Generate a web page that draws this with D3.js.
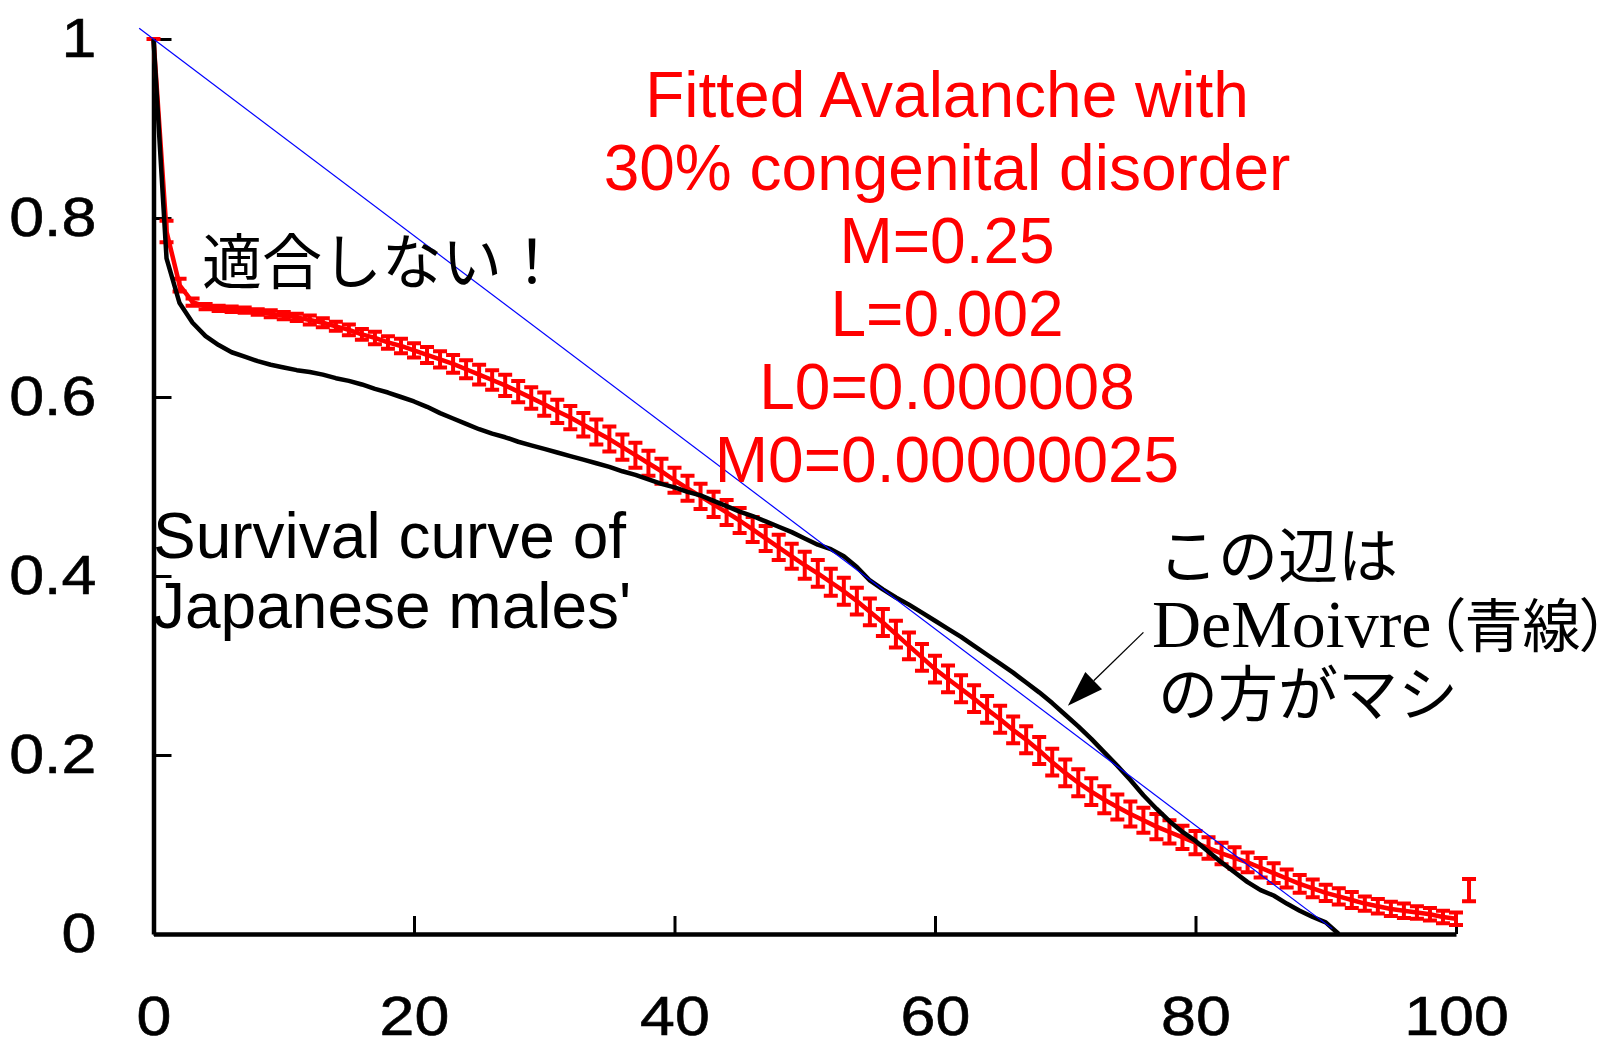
<!DOCTYPE html>
<html>
<head>
<meta charset="UTF-8">
<title>Avalanche fit vs survival curve</title>
<script type="text/javascript" src="https://d3js.org/d3.v7.min.js"></script>
<style>
body {margin:0; background:#fff;}
.palt {font-feature-settings: "palt" 1;}
</style>
</head>
<body>
<div id="chart"></div>
<script type="text/javascript">
// ages on the x axis (one error bar per year)
var ages = d3.range(0, 101);

// fitted avalanche model (red)
var fitted = [
  1.000, 0.785, 0.725, 0.706, 0.701, 0.699, 0.698, 0.697, 0.695, 0.693,
  0.691, 0.689, 0.686, 0.683, 0.679, 0.675, 0.670, 0.666, 0.661, 0.657,
  0.652, 0.647, 0.642, 0.637, 0.631, 0.625, 0.619, 0.613, 0.606, 0.599,
  0.592, 0.584, 0.577, 0.569, 0.561, 0.553, 0.544, 0.535, 0.526, 0.517,
  0.507, 0.498, 0.489, 0.480, 0.471, 0.462, 0.452, 0.442, 0.432, 0.422,
  0.412, 0.403, 0.393, 0.383, 0.372, 0.360, 0.348, 0.335, 0.322, 0.309,
  0.296, 0.285, 0.274, 0.263, 0.251, 0.240, 0.228, 0.217, 0.205, 0.192,
  0.180, 0.169, 0.159, 0.150, 0.142, 0.134, 0.127, 0.120, 0.114, 0.108,
  0.102, 0.096, 0.090, 0.085, 0.080, 0.074, 0.068, 0.062, 0.056, 0.051,
  0.046, 0.042, 0.038, 0.034, 0.031, 0.028, 0.026, 0.024, 0.022, 0.019,
  0.017
];
// half height of each error bar
var fittedErr = [
  0.000, 0.012, 0.007, 0.004, 0.003, 0.003, 0.003, 0.003, 0.003, 0.004,
  0.004, 0.004, 0.005, 0.005, 0.005, 0.006, 0.006, 0.007, 0.007, 0.008,
  0.008, 0.009, 0.009, 0.010, 0.010, 0.011, 0.011, 0.012, 0.012, 0.012,
  0.013, 0.013, 0.013, 0.013, 0.014, 0.014, 0.014, 0.014, 0.014, 0.014,
  0.014, 0.014, 0.014, 0.014, 0.014, 0.014, 0.014, 0.014, 0.014, 0.014,
  0.015, 0.015, 0.015, 0.015, 0.015, 0.015, 0.015, 0.015, 0.015, 0.015,
  0.015, 0.015, 0.015, 0.015, 0.015, 0.015, 0.015, 0.015, 0.015, 0.015,
  0.015, 0.015, 0.015, 0.015, 0.014, 0.014, 0.014, 0.014, 0.013, 0.013,
  0.013, 0.012, 0.012, 0.012, 0.011, 0.011, 0.011, 0.010, 0.010, 0.010,
  0.009, 0.009, 0.009, 0.008, 0.008, 0.008, 0.008, 0.007, 0.007, 0.007,
  0.007
];
// lone bar right of 100
var strayAge = [101];
var strayVal = [0.049];
var strayErr = [0.0125];

// survival curve of Japanese males (black)
var survAges = d3.range(0, 92);
var survival = [
  1.000, 0.755, 0.705, 0.683, 0.668, 0.658, 0.650, 0.645, 0.640, 0.636,
  0.633, 0.630, 0.628, 0.625, 0.621, 0.618, 0.614, 0.609, 0.605, 0.600,
  0.595, 0.589, 0.582, 0.576, 0.570, 0.564, 0.559, 0.555, 0.550, 0.546,
  0.542, 0.538, 0.534, 0.530, 0.526, 0.522, 0.517, 0.513, 0.508, 0.503,
  0.499, 0.494, 0.490, 0.484, 0.478, 0.472, 0.467, 0.461, 0.455, 0.449,
  0.442, 0.435, 0.430, 0.422, 0.410, 0.395, 0.385, 0.376, 0.368, 0.359,
  0.350, 0.341, 0.332, 0.322, 0.312, 0.302, 0.292, 0.281, 0.270, 0.258,
  0.245, 0.232, 0.218, 0.203, 0.188, 0.172, 0.155, 0.140, 0.126, 0.114,
  0.104, 0.092, 0.080, 0.069, 0.058, 0.049, 0.043, 0.034, 0.026, 0.019,
  0.013, 0.000
];

// DeMoivre straight line (blue)
var demoivreAges = [-1.1, 90.5];
var demoivre = [1.012, 0.006];

// ticks
var xTicks = [0, 20, 40, 60, 80, 100];
var yTicks = [0, 0.2, 0.4, 0.6, 0.8, 1];
var yTickLabels = ["0", "0.2", "0.4", "0.6", "0.8", "1"];

// annotations
var fitLabel = ["Fitted Avalanche with", "30% congenital disorder", "M=0.25", "L=0.002", "L0=0.000008", "M0=0.00000025"];
var survLabel = ["Survival curve of", "Japanese males'"];
var noFitLabel = "適合しない！";
var noteLabel = ["この辺は", "DeMoivre", "（青線）", "の方がマシ"];
var arrowFrom = [76.0, 0.337];
var arrowTo = [70.2, 0.255];

//Width and height
var w = 1623;
var h = 1046;

var x = d3.scaleLinear().domain([0, 100]).range([153.5, 1456]);
var y = d3.scaleLinear().domain([0, 1]).range([934, 39]);

var svg = d3.select("#chart")
      .append("svg")
      .attr("width", w)
      .attr("height", h)
      .style("display", "block");

var sansFont = "'Liberation Sans', Arial, sans-serif";
var cjkFont = "'Noto Sans CJK JP', sans-serif";

//Axes
var yAxis = svg.append("g")
      .attr("transform", "translate(" + x(0) + ",0)")
      .call(d3.axisLeft(y)
        .tickValues(yTicks)
        .tickFormat(function(d, i) { return yTickLabels[i]; })
        .tickSizeInner(-18)
        .tickSizeOuter(0)
        .tickPadding(51));

var xAxis = svg.append("g")
      .attr("transform", "translate(0," + y(0) + ")")
      .call(d3.axisBottom(x)
        .tickValues(xTicks)
        .tickFormat(d3.format("d"))
        .tickSizeInner(-18)
        .tickSizeOuter(0)
        .tickPadding(61));

[yAxis, xAxis].forEach(function(ax) {
  ax.select(".domain").attr("stroke", "#000").attr("stroke-width", 4.5);
  ax.selectAll(".tick line").attr("stroke", "#000").attr("stroke-width", 3);
  ax.selectAll(".tick text")
    .attr("fill", "#000")
    .attr("stroke", "#000")
    .attr("stroke-width", 0.6)
    .style("font-family", sansFont)
    .style("font-size", "56px")
    .attr("transform", "scale(1.12,1)");
});

//Fitted model line + error bars
var redLine = d3.line()
      .x(function(d) { return x(d); })
      .y(function(d, i) { return y(fitted[i]); });

svg.append("path")
  .datum(ages)
  .attr("d", redLine)
  .attr("fill", "none")
  .attr("stroke", "#ff0000")
  .attr("stroke-width", 4.5)
  .attr("stroke-linejoin", "round");

function errBar(xv, v, e) {
  var cx = x(xv), top = y(v + e), bot = y(v - e), c = 7;
  return "M" + (cx - c) + "," + top + "H" + (cx + c) +
         "M" + cx + "," + top + "V" + bot +
         "M" + (cx - c) + "," + bot + "H" + (cx + c);
}

svg.append("g").selectAll("path")
  .data(ages)
  .enter()
  .append("path")
  .attr("d", function(d, i) { return errBar(d, fitted[i], fittedErr[i]); })
  .attr("fill", "none")
  .attr("stroke", "#ff0000")
  .attr("stroke-width", 4);

svg.append("g").selectAll("path")
  .data(strayAge)
  .enter()
  .append("path")
  .attr("d", function(d, i) { return errBar(d, strayVal[i], strayErr[i]); })
  .attr("fill", "none")
  .attr("stroke", "#ff0000")
  .attr("stroke-width", 4);

//Survival curve
var blackLine = d3.line()
      .x(function(d) { return x(d); })
      .y(function(d, i) { return y(survival[i]); });

svg.append("path")
  .datum(survAges)
  .attr("d", blackLine)
  .attr("fill", "none")
  .attr("stroke", "#000")
  .attr("stroke-width", 4.5)
  .attr("stroke-linejoin", "round");

//DeMoivre
var blueLine = d3.line()
      .x(function(d) { return x(d); })
      .y(function(d, i) { return y(demoivre[i]); });

svg.append("path")
  .datum(demoivreAges)
  .attr("d", blueLine)
  .attr("fill", "none")
  .attr("stroke", "#0000ff")
  .attr("stroke-width", 1.2);

//Red label block
svg.append("g").selectAll("text")
  .data(fitLabel)
  .enter()
  .append("text")
  .attr("x", 947)
  .attr("y", function(d, i) { return 117 + i * 73; })
  .attr("text-anchor", "middle")
  .attr("fill", "#ff0000")
  .style("font-family", sansFont)
  .style("font-size", "64px")
  .text(function(d) { return d; });

//Black labels
svg.append("text")
  .attr("x", 202)
  .attr("y", 284)
  .style("font-family", cjkFont)
  .style("font-size", "60px")
  .text(noFitLabel);

svg.append("g").selectAll("text")
  .data(survLabel)
  .enter()
  .append("text")
  .attr("x", 153)
  .attr("y", function(d, i) { return 558 + i * 70; })
  .style("font-family", sansFont)
  .style("font-size", "64px")
  .text(function(d) { return d; });

svg.append("text")
  .attr("x", 1158)
  .attr("y", 578)
  .style("font-family", cjkFont)
  .style("font-size", "60px")
  .text(noteLabel[0]);

var mid = svg.append("text")
  .attr("x", 1152)
  .attr("y", 647);
mid.append("tspan")
  .style("font-family", "'Liberation Serif', 'Times New Roman', serif")
  .style("font-size", "68px")
  .text(noteLabel[1]);
mid.append("tspan")
  .attr("class", "palt")
  .attr("dx", 4)
  .style("font-family", cjkFont)
  .style("font-size", "58px")
  .text(noteLabel[2]);

svg.append("text")
  .attr("x", 1158)
  .attr("y", 716)
  .style("font-family", cjkFont)
  .style("font-size", "60px")
  .text(noteLabel[3]);

//Arrow
var ax0 = x(arrowFrom[0]), ay0 = y(arrowFrom[1]);
var ax1 = x(arrowTo[0]), ay1 = y(arrowTo[1]);
var len = Math.sqrt((ax1 - ax0) * (ax1 - ax0) + (ay1 - ay0) * (ay1 - ay0));
var ux = (ax1 - ax0) / len, uy = (ay1 - ay0) / len;
var headL = 36, headW = 12;
var bx = ax1 - ux * headL, by = ay1 - uy * headL;

svg.append("line")
  .attr("x1", ax0).attr("y1", ay0)
  .attr("x2", bx).attr("y2", by)
  .attr("stroke", "#000")
  .attr("stroke-width", 1.3);

svg.append("path")
  .attr("d", "M" + ax1 + "," + ay1 +
             "L" + (bx - uy * headW) + "," + (by + ux * headW) +
             "L" + (bx + uy * headW) + "," + (by - ux * headW) + "Z")
  .attr("fill", "#000");
</script>
</body>
</html>
